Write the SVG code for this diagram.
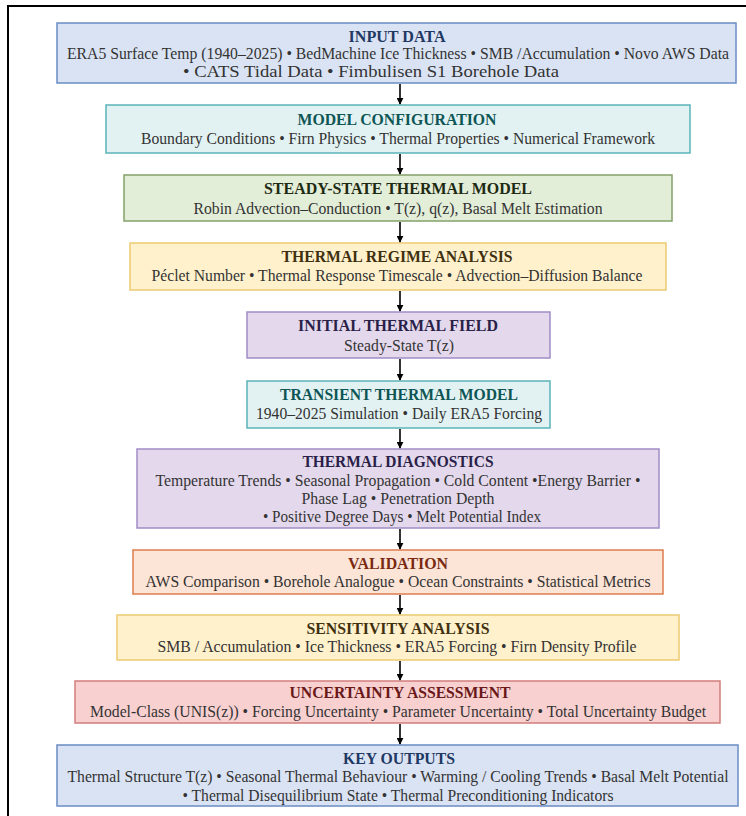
<svg xmlns="http://www.w3.org/2000/svg" width="746" height="816" viewBox="0 0 746 816">
<defs>
<marker id="ah" viewBox="0 0 10 10" refX="9" refY="5" markerWidth="7" markerHeight="7" markerUnits="userSpaceOnUse" orient="auto"><path d="M0,0 L10,5 L0,10 z" fill="#000"/></marker>
<style>
text{font-family:"Liberation Serif","Times New Roman",serif;text-anchor:middle}
.t{font-size:16px;font-weight:bold}
.b{font-size:16px;fill:#333}
.blue rect{fill:#dae3f3;stroke:#6a8cc4;stroke-width:1.5}
.blue .t{fill:#1f3864}
.teal rect{fill:#e2f2f2;stroke:#5ab4b8;stroke-width:1.5}
.teal .t{fill:#0e5555}
.green rect{fill:#e3eed9;stroke:#84a06a;stroke-width:1.5}
.green .t{fill:#1e2a12}
.yellow rect{fill:#fff1cc;stroke:#ecca72;stroke-width:1.5}
.yellow .t{fill:#3f3010}
.purple rect{fill:#e3d8ec;stroke:#a08cc6;stroke-width:1.5}
.purple .t{fill:#2a1f48}
.orange rect{fill:#fce4d6;stroke:#dc7c4e;stroke-width:1.5}
.orange .t{fill:#7a2a10}
.red rect{fill:#f8d0d0;stroke:#d37d7d;stroke-width:1.5}
.red .t{fill:#6a1818}
.conn line{stroke:#000;stroke-width:1.6;marker-end:url(#ah)}
</style>
</defs>
<rect width="746" height="816" fill="#fff"/>
<path d="M8,816 L8,6 L746,6" fill="none" stroke="#000" stroke-width="2"/>

<g id="input" class="blue">
<rect x="57" y="23" width="679" height="60"/>
<text class="t" x="397" y="42" textLength="97" lengthAdjust="spacingAndGlyphs">INPUT DATA</text>
<text class="b" x="398" y="59" textLength="662" lengthAdjust="spacingAndGlyphs">ERA5 Surface Temp (1940–2025) • BedMachine Ice Thickness • SMB /Accumulation • Novo AWS Data</text>
<text class="b" x="371" y="77" textLength="376" lengthAdjust="spacingAndGlyphs">• CATS Tidal Data • Fimbulisen S1 Borehole Data</text>
</g>

<g id="config" class="teal">
<rect x="106" y="105" width="584" height="48"/>
<text class="t" x="397" y="125" textLength="199" lengthAdjust="spacingAndGlyphs">MODEL CONFIGURATION</text>
<text class="b" x="398" y="144" textLength="514" lengthAdjust="spacingAndGlyphs">Boundary Conditions • Firn Physics • Thermal Properties • Numerical Framework</text>
</g>

<g id="steady" class="green">
<rect x="124" y="175" width="548" height="46"/>
<text class="t" x="398" y="194" textLength="268" lengthAdjust="spacingAndGlyphs">STEADY-STATE THERMAL MODEL</text>
<text class="b" x="398" y="214" textLength="409" lengthAdjust="spacingAndGlyphs">Robin Advection–Conduction • T(z), q(z), Basal Melt Estimation</text>
</g>

<g id="regime" class="yellow">
<rect x="130" y="243" width="536" height="47"/>
<text class="t" x="397" y="262" textLength="231" lengthAdjust="spacingAndGlyphs">THERMAL REGIME ANALYSIS</text>
<text class="b" x="397" y="281" textLength="491" lengthAdjust="spacingAndGlyphs">Péclet Number • Thermal Response Timescale • Advection–Diffusion Balance</text>
</g>

<g id="initial" class="purple">
<rect x="247" y="312" width="303" height="46"/>
<text class="t" x="398" y="331" textLength="200" lengthAdjust="spacingAndGlyphs">INITIAL THERMAL FIELD</text>
<text class="b" x="399" y="351" textLength="110" lengthAdjust="spacingAndGlyphs">Steady-State T(z)</text>
</g>

<g id="transient" class="teal">
<rect x="247" y="381" width="303" height="47"/>
<text class="t" x="399" y="400" textLength="238" lengthAdjust="spacingAndGlyphs">TRANSIENT THERMAL MODEL</text>
<text class="b" x="399" y="419" textLength="286" lengthAdjust="spacingAndGlyphs">1940–2025 Simulation • Daily ERA5 Forcing</text>
</g>

<g id="diagnostics" class="purple">
<rect x="137" y="449" width="522" height="79"/>
<text class="t" x="398" y="467" textLength="191" lengthAdjust="spacingAndGlyphs">THERMAL DIAGNOSTICS</text>
<text class="b" x="398" y="486" textLength="485" lengthAdjust="spacingAndGlyphs">Temperature Trends • Seasonal Propagation • Cold Content •Energy Barrier •</text>
<text class="b" x="398" y="504" textLength="193" lengthAdjust="spacingAndGlyphs">Phase Lag • Penetration Depth</text>
<text class="b" x="402" y="522" textLength="278" lengthAdjust="spacingAndGlyphs">• Positive Degree Days • Melt Potential Index</text>
</g>

<g id="validation" class="orange">
<rect x="133" y="550" width="530" height="44"/>
<text class="t" x="398" y="569" textLength="100" lengthAdjust="spacingAndGlyphs">VALIDATION</text>
<text class="b" x="398" y="587" textLength="505" lengthAdjust="spacingAndGlyphs">AWS Comparison • Borehole Analogue • Ocean Constraints • Statistical Metrics</text>
</g>

<g id="sensitivity" class="yellow">
<rect x="117" y="615" width="562" height="45"/>
<text class="t" x="398" y="634" textLength="183" lengthAdjust="spacingAndGlyphs">SENSITIVITY ANALYSIS</text>
<text class="b" x="397" y="652" textLength="479" lengthAdjust="spacingAndGlyphs">SMB / Accumulation • Ice Thickness • ERA5 Forcing • Firn Density Profile</text>
</g>

<g id="uncertainty" class="red">
<rect x="75" y="681" width="645" height="42"/>
<text class="t" x="400" y="698" textLength="221" lengthAdjust="spacingAndGlyphs">UNCERTAINTY ASSESSMENT</text>
<text class="b" x="398" y="717" textLength="616" lengthAdjust="spacingAndGlyphs">Model-Class (UNIS(z)) • Forcing Uncertainty • Parameter Uncertainty • Total Uncertainty Budget</text>
</g>

<g id="outputs" class="blue">
<rect x="57" y="745" width="681" height="61"/>
<text class="t" x="399" y="764" textLength="112" lengthAdjust="spacingAndGlyphs">KEY OUTPUTS</text>
<text class="b" x="398" y="782" textLength="661" lengthAdjust="spacingAndGlyphs">Thermal Structure T(z) • Seasonal Thermal Behaviour • Warming / Cooling Trends • Basal Melt Potential</text>
<text class="b" x="398" y="801" textLength="431" lengthAdjust="spacingAndGlyphs">• Thermal Disequilibrium State • Thermal Preconditioning Indicators</text>
</g>

<g id="connectors" class="conn">
<line x1="400" y1="84" x2="400" y2="104"/>
<line x1="400" y1="154" x2="400" y2="174"/>
<line x1="400" y1="222" x2="400" y2="242"/>
<line x1="400" y1="291" x2="400" y2="311"/>
<line x1="400" y1="359" x2="400" y2="380"/>
<line x1="400" y1="429" x2="400" y2="448"/>
<line x1="400" y1="529" x2="400" y2="549"/>
<line x1="400" y1="595" x2="400" y2="614"/>
<line x1="400" y1="661" x2="400" y2="680"/>
<line x1="400" y1="724" x2="400" y2="744"/>
</g>
</svg>
